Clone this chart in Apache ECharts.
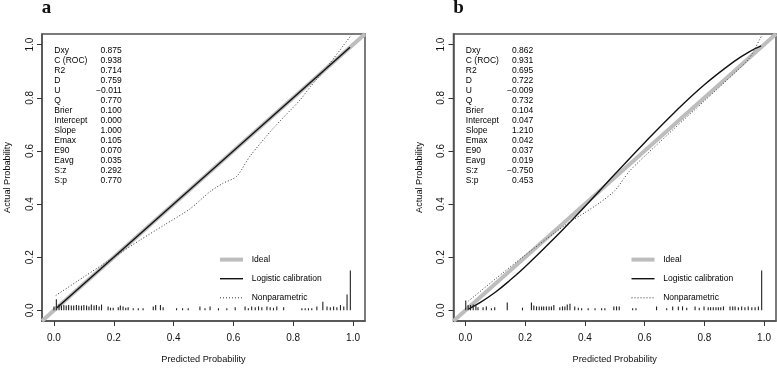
<!DOCTYPE html>
<html><head><meta charset="utf-8">
<script src="https://cdn.jsdelivr.net/npm/echarts@6/dist/echarts.min.js"></script>
<style>html,body{margin:0;padding:0;background:#fff}#c{width:777px;height:369px}</style>
</head><body><div id="c"></div>
<script>
const tickValues = [0, 0.2, 0.4, 0.6, 0.8, 1.0];
const panelTitles = ['a', 'b'];
const xAxisName = 'Predicted Probability';
const yAxisName = 'Actual Probability';
const legendNames = ['Ideal', 'Logistic calibration', 'Nonparametric'];
const statNames = ['Dxy','C (ROC)','R2','D','U','Q','Brier','Intercept','Slope','Emax','E90','Eavg','S:z','S:p'];
const statsA = ['0.875','0.938','0.714','0.759','\u22120.011','0.770','0.100','0.000','1.000','0.105','0.070','0.035','0.292','0.770'];
const statsB = ['0.862','0.931','0.695','0.722','\u22120.009','0.732','0.104','0.047','1.210','0.042','0.037','0.019','\u22120.750','0.453'];

const idealX = [-0.04, 1.04];
const idealY = [-0.04, 1.04];

const logisticAX = [0.01, 0.99];
const logisticAY = [0.01, 0.99];
const nonparAX = [0.006, 0.1, 0.2, 0.287, 0.37, 0.455, 0.522, 0.565, 0.611, 0.656, 0.734, 0.823, 0.857, 0.913, 0.99];
const nonparAY = [0.056, 0.126, 0.2, 0.264, 0.322, 0.382, 0.447, 0.478, 0.504, 0.581, 0.686, 0.792, 0.841, 0.916, 1.03];

const logisticBX = [0.01, 0.05, 0.1, 0.15, 0.2, 0.3, 0.4, 0.5, 0.6, 0.7, 0.8, 0.9, 0.95, 0.99];
const logisticBY = [0.005, 0.03, 0.068, 0.114, 0.164, 0.274, 0.391, 0.512, 0.631, 0.745, 0.849, 0.937, 0.973, 0.995];
const nonparBX = [0.01, 0.1, 0.2, 0.3, 0.35, 0.4, 0.45, 0.5, 0.53, 0.55, 0.6, 0.7, 0.8, 0.9, 0.95, 0.99];
const nonparBY = [0.035, 0.118, 0.208, 0.293, 0.333, 0.368, 0.405, 0.45, 0.495, 0.525, 0.58, 0.685, 0.788, 0.892, 0.948, 1.03];

const rugAX = [0.0,0.008,0.017,0.025,0.033,0.041,0.049,0.058,0.066,0.075,0.083,0.092,0.1,0.109,0.117,0.125,0.134,0.142,0.151,0.159,
  0.181,0.189,0.198,0.215,0.222,0.231,0.24,0.248,0.265,0.282,0.298,0.332,0.34,0.356,0.365,0.41,0.43,0.449,0.488,0.505,0.522,0.55,0.578,0.606,
  0.639,0.65,0.661,0.673,0.684,0.695,0.712,0.723,0.734,0.745,0.768,0.829,0.84,0.851,0.862,0.879,0.899,0.913,0.924,0.935,0.946,0.958,0.969,0.98,0.991];
const rugAH = [0.015,0.042,0.022,0.018,0.02,0.018,0.02,0.018,0.018,0.02,0.018,0.018,0.02,0.018,0.015,0.022,0.018,0.02,0.015,0.022,
  0.015,0.01,0.01,0.012,0.018,0.015,0.01,0.012,0.008,0.008,0.008,0.015,0.02,0.02,0.012,0.008,0.008,0.008,0.015,0.008,0.015,0.008,0.008,0.012,
  0.015,0.008,0.015,0.012,0.015,0.012,0.015,0.012,0.01,0.015,0.012,0.008,0.008,0.008,0.008,0.015,0.032,0.015,0.012,0.015,0.012,0.02,0.015,0.06,0.15];

const rugBX = [0.001,0.009,0.017,0.026,0.035,0.042,0.059,0.07,0.087,0.098,0.14,0.191,0.221,0.229,0.238,0.247,0.255,0.262,0.271,0.28,0.288,0.296,
  0.316,0.325,0.333,0.341,0.35,0.366,0.378,0.389,0.411,0.434,0.456,0.467,0.497,0.506,0.515,0.56,0.571,0.64,0.674,0.694,0.713,0.727,0.741,
  0.769,0.783,0.799,0.813,0.821,0.83,0.839,0.847,0.855,0.864,0.886,0.895,0.903,0.914,0.925,0.936,0.947,0.959,0.97,0.981,0.992];
const rugBH = [0.037,0.02,0.02,0.022,0.018,0.012,0.012,0.015,0.008,0.012,0.03,0.01,0.03,0.018,0.015,0.015,0.015,0.015,0.015,0.015,0.015,0.02,
  0.012,0.015,0.015,0.022,0.025,0.015,0.01,0.008,0.008,0.008,0.008,0.008,0.015,0.015,0.015,0.008,0.008,0.015,0.008,0.015,0.015,0.015,0.01,
  0.015,0.01,0.015,0.012,0.012,0.012,0.012,0.012,0.012,0.015,0.015,0.015,0.015,0.012,0.015,0.012,0.015,0.012,0.012,0.015,0.15];

const FONT = '"Liberation Sans", Arial, Helvetica, sans-serif';
const zip = (xs, ys) => xs.map((x, i) => [x, ys[i]]);

const gridDefs = [{ left: 42, top: 34, width: 323, height: 289 }, { left: 453.5, top: 34, width: 322.5, height: 289 }];

function makeXAxis(i) {
  return {
    type: 'value', gridIndex: i, min: -0.04, max: 1.04, position: 'bottom',
    axisLine: { show: true, onZero: false, lineStyle: { color: '#505050', width: 1.5 } }, splitLine: { show: false },
    axisTick: { show: true, inside: false, length: 5, customValues: tickValues, lineStyle: { color: '#333', width: 1 } },
    axisLabel: { customValues: tickValues, margin: 12, fontSize: 10, color: '#111', fontFamily: FONT, formatter: v => v.toFixed(1) },
    name: xAxisName, nameLocation: 'middle', nameGap: 34,
    nameTextStyle: { fontSize: 9.2, color: '#111', fontFamily: FONT }
  };
}
function makeYAxis(i) {
  return {
    type: 'value', gridIndex: i, min: -0.04, max: 1.04, position: 'left',
    axisLine: { show: true, onZero: false, lineStyle: { color: '#505050', width: 1.5 } }, splitLine: { show: false },
    axisTick: { show: true, inside: false, length: 5, customValues: tickValues, lineStyle: { color: '#333', width: 1 } },
    axisLabel: { customValues: tickValues, margin: 7, rotate: 90, fontSize: 10, color: '#111', fontFamily: FONT, formatter: v => v.toFixed(1) },
    name: yAxisName, nameLocation: 'middle', nameGap: 30,
    nameTextStyle: { fontSize: 9.2, color: '#111', fontFamily: FONT }
  };
}
function rugSeries(xs, hs, idx) {
  return {
    type: 'custom', xAxisIndex: idx, yAxisIndex: idx, silent: true, z: 5,
    data: zip(xs, hs),
    renderItem: (params, api) => {
      const p0 = api.coord([api.value(0), 0]);
      const p1 = api.coord([api.value(0), api.value(1)]);
      return { type: 'line', shape: { x1: p0[0], y1: p0[1], x2: p1[0], y2: p1[1] }, style: { stroke: '#222', lineWidth: 1.1 } };
    }
  };
}
const styles = {
  ideal: { color: '#bdbdbd', width: 4, type: 'solid' },
  logistic: { color: '#111', width: 1.4, type: 'solid' },
  nonpar: { color: '#333', width: 1, type: [1, 2] }
};
function lineSeries(name, data, idx, st, z, smooth) {
  return {
    type: 'line', name, xAxisIndex: idx, yAxisIndex: idx, data, showSymbol: false, symbol: 'none',
    smooth: smooth || false, z, silent: true, animation: false,
    lineStyle: { color: st.color, width: st.width, type: st.type }
  };
}

const series = [
  lineSeries('Ideal', zip(idealX, idealY), 0, styles.ideal, 2),
  lineSeries('Logistic calibration', zip(logisticAX, logisticAY), 0, styles.logistic, 3),
  lineSeries('Nonparametric', zip(nonparAX, nonparAY), 0, styles.nonpar, 4, 0.25),
  rugSeries(rugAX, rugAH, 0),
  lineSeries('Ideal', zip(idealX, idealY), 1, styles.ideal, 2),
  lineSeries('Logistic calibration', zip(logisticBX, logisticBY), 1, styles.logistic, 3, 0.4),
  lineSeries('Nonparametric', zip(nonparBX, nonparBY), 1, styles.nonpar, 4, 0.25),
  rugSeries(rugBX, rugBH, 1)
];

const graphic = [];
const panelOffsets = [0, 411.5];
const statVals = [statsA, statsB];
panelOffsets.forEach((dx, p) => {
  graphic.push({ type: 'text', x: 41.7 + dx, y: 8.3, style: { text: panelTitles[p], font: 'bold 19px "Liberation Serif", "Times New Roman", serif', fill: '#111', verticalAlign: 'middle', align: 'left' } });
  statNames.forEach((n, i) => {
    const y = 51 + 9.95 * i;
    graphic.push({ type: 'text', x: 54.3 + dx, y, style: { text: n, font: '8.5px ' + FONT, fill: '#000', verticalAlign: 'middle', align: 'left' } });
    graphic.push({ type: 'text', x: 121.7 + dx, y, style: { text: statVals[p][i], font: '8.5px ' + FONT, fill: '#000', verticalAlign: 'middle', align: 'right' } });
  });
  const legStyles = [styles.ideal, styles.logistic, styles.nonpar];
  legendNames.forEach((n, i) => {
    const y = 259.6 + 19.1 * i;
    const st = legStyles[i];
    graphic.push({ type: 'line', shape: { x1: 220 + dx, y1: y, x2: 243 + dx, y2: y }, style: { stroke: st.color, lineWidth: st.width, lineDash: Array.isArray(st.type) ? st.type : null } });
    graphic.push({ type: 'text', x: 251.7 + dx, y, style: { text: n, font: '8.5px ' + FONT, fill: '#000', verticalAlign: 'middle', align: 'left' } });
  });
});

const chart = echarts.init(document.getElementById('c'), null, { renderer: 'canvas' });
chart.setOption({
  animation: false,
  backgroundColor: '#fff',
  grid: gridDefs.map(g => Object.assign({ show: true, borderColor: '#505050', borderWidth: 1.5, backgroundColor: 'transparent' }, g)),
  xAxis: [makeXAxis(0), makeXAxis(1)],
  yAxis: [makeYAxis(0), makeYAxis(1)],
  series,
  graphic
});
</script></body></html>
